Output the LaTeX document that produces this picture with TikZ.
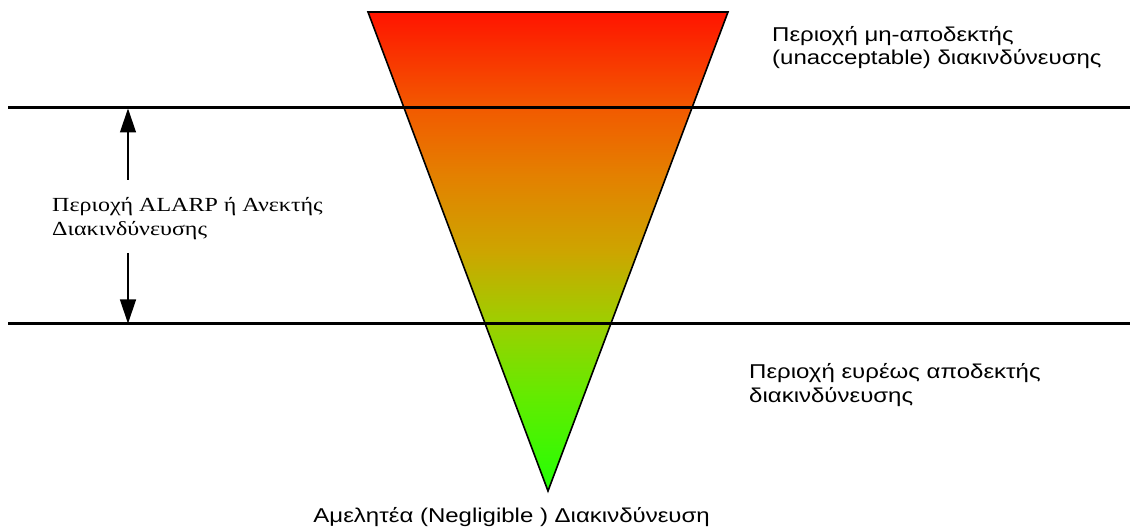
\documentclass[tikz,border=0pt]{standalone}
\usepackage{fontspec}
\setmainfont[FakeStretch=1.2]{Liberation Serif}
\newfontfamily\labelsans[FakeStretch=1.2]{Liberation Sans}
\usetikzlibrary{arrows.meta}

% red-to-green risk ramp (stops from bottom tip to top edge)
\pgfdeclareverticalshading{riskramp}{100bp}{%
  color(0bp)=(rgb,255:red,35;green,255;blue,5);
  color(25bp)=(rgb,255:red,35;green,255;blue,5);
  color(35bp)=(rgb,255:red,100;green,235;blue,0);
  color(43bp)=(rgb,255:red,160;green,205;blue,0);
  color(50bp)=(rgb,255:red,205;green,165;blue,0);
  color(58bp)=(rgb,255:red,228;green,128;blue,0);
  color(65bp)=(rgb,255:red,242;green,90;blue,0);
  color(75bp)=(rgb,255:red,255;green,20;blue,0);
  color(100bp)=(rgb,255:red,255;green,20;blue,0)}

\tikzset{
  boundary/.style={line width=3pt},
  funnel/.style={draw=black, line width=1.6pt, line join=miter, shading=riskramp},
  span arrow/.style={line width=1.3pt, -{Triangle[length=24pt,width=16pt]}},
  sanslabel/.style={font=\labelsans\fontsize{20}{23.5}\selectfont, align=left, inner sep=0pt},
  seriflabel/.style={font=\fontsize{20}{24.5}\selectfont, align=left, inner sep=0pt},
}

\begin{document}
\begin{tikzpicture}[x=1pt,y=-1pt]
  \useasboundingbox (0,0) rectangle (1130,529);

  % risk funnel
  \coordinate (tl) at (368,12);
  \coordinate (tr) at (728,12);
  \coordinate (tip) at (548,491);
  \shade[funnel] (tl) -- (tr) -- (tip) -- cycle;

  % region boundaries
  \coordinate (upL) at (8,108);
  \coordinate (upR) at (1130,108);
  \coordinate (loL) at (8,324);
  \coordinate (loR) at (1130,324);
  \draw[boundary] (upL) -- (upR);
  \draw[boundary] (loL) -- (loR);

  % ALARP span arrows
  \coordinate (arrUpStart) at (128,180);
  \coordinate (arrUpEnd) at (128,108.5);
  \coordinate (arrDnStart) at (128,253);
  \coordinate (arrDnEnd) at (128,323.5);
  \draw[span arrow] (arrUpStart) -- (arrUpEnd);
  \draw[span arrow] (arrDnStart) -- (arrDnEnd);

  % labels (anchored on the baseline of their last line)
  \node[sanslabel, anchor=base west] (unacc) at (772,65)
    {Περιοχή μη-αποδεκτής\\(unacceptable) διακινδύνευσης};
  \node[seriflabel, anchor=base west] (alarp) at (52,236)
    {Περιοχή ALARP ή Ανεκτής\\Διακινδύνευσης};
  \node[sanslabel, anchor=base west] (broad) at (749,402)
    {Περιοχή ευρέως αποδεκτής\\διακινδύνευσης};
  \node[sanslabel, anchor=base east] (neglig) at (710,522)
    {Αμελητέα (Negligible ) Διακινδύνευση};
\end{tikzpicture}
\end{document}
